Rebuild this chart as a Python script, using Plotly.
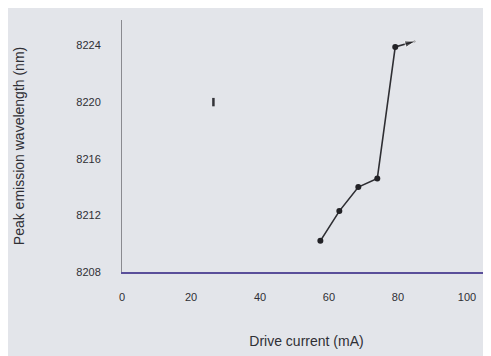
import plotly.graph_objects as go

drive_current = [57.5, 63, 68.5, 74, 79.2, 85]
peak_wavelength = [8210.2, 8212.3, 8214.0, 8214.6, 8223.9, 8224.3]
stray_x = [26.5]
stray_y = [8220.0]
x_ticks = [0, 20, 40, 60, 80, 100]
y_ticks = [8208, 8212, 8216, 8220, 8224]

fig = go.Figure()
fig.add_trace(go.Scatter(
    x=drive_current, y=peak_wavelength, mode="lines",
    line=dict(color="#2e2e33", width=1.6),
    showlegend=False,
))
fig.add_trace(go.Scatter(
    x=drive_current[:-1], y=peak_wavelength[:-1], mode="markers",
    marker=dict(color="#222226", size=6, symbol="circle"),
    showlegend=False,
))
fig.add_trace(go.Scatter(
    x=drive_current[-2:], y=peak_wavelength[-2:], mode="markers",
    marker=dict(color="#222226", size=[0, 11], symbol="arrow", angleref="previous"),
    showlegend=False,
))
fig.add_trace(go.Scatter(
    x=stray_x, y=stray_y, mode="markers",
    marker=dict(symbol="line-ns", size=6, line=dict(color="#333338", width=2.5)),
    showlegend=False,
))

fig.update_layout(
    width=483, height=348,
    margin=dict(l=114, r=0, t=12, b=84),
    paper_bgcolor="#e3e5ea", plot_bgcolor="#e3e5ea",
    font=dict(family="Liberation Sans, Arial, sans-serif", color="#2f2f35"),
)
fig.update_xaxes(
    range=[0, 106.96], tickvals=x_ticks, ticks="", showgrid=False, zeroline=False,
    showline=True, linecolor="#5a4f9a", linewidth=2,
    tickfont=dict(size=11), ticklabelstandoff=14,
    title=dict(text="Drive current (mA)", font=dict(size=14), standoff=34),
)
fig.update_yaxes(
    range=[8208.0, 8225.8], tickvals=y_ticks, ticks="", showgrid=False, zeroline=False,
    showline=True, linecolor="#8a8a90", linewidth=1,
    tickfont=dict(size=11), ticklabelstandoff=18,
    title=dict(text="Peak emission wavelength (nm)", font=dict(size=14), standoff=48),
)
fig.write_html("out.html")
